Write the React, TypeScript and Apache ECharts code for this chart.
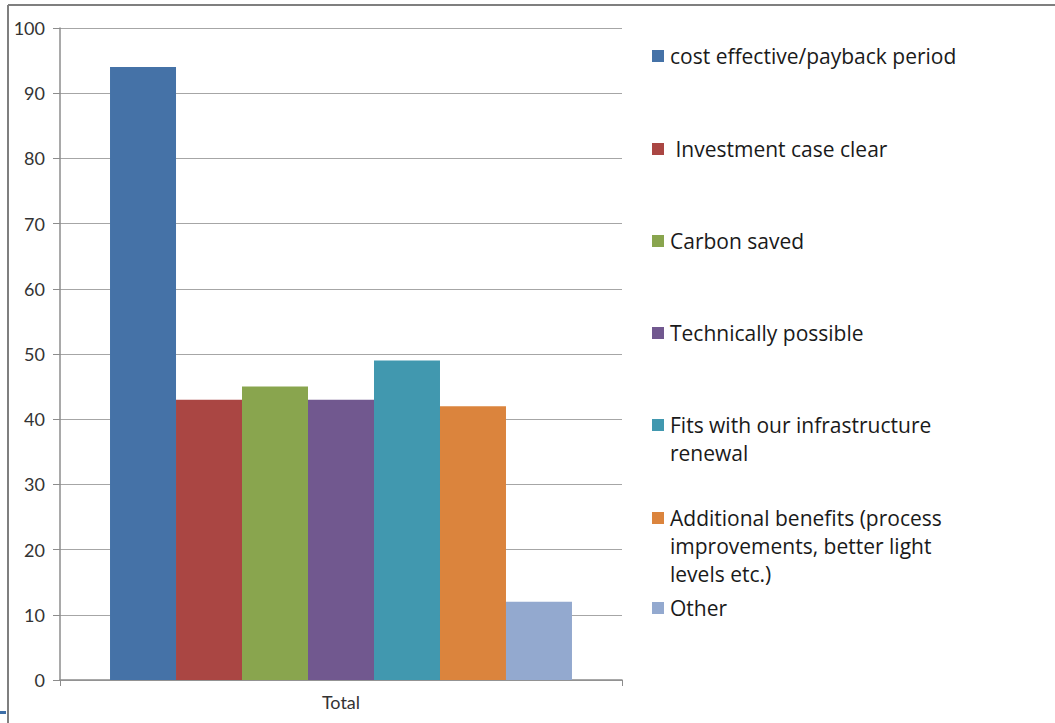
import React, { useEffect, useRef } from "react";
import * as echarts from "echarts";

// Survey responses, one bar per reason, for the single "Total" category
const categories = ["Total"];
const seriesNames = [
  "cost effective/payback period",
  " Investment case clear",
  "Carbon saved",
  "Technically possible",
  "Fits with our infrastructure renewal",
  "Additional benefits (process improvements, better light levels etc.)",
  "Other",
];
// Legend text broken into lines as displayed
const legendLines = [
  ["cost effective/payback period"],
  [" Investment case clear"],
  ["Carbon saved"],
  ["Technically possible"],
  ["Fits with our infrastructure", "renewal"],
  ["Additional benefits (process", "improvements, better light", "levels etc.)"],
  ["Other"],
];
const seriesValues = [94, 43, 45, 43, 49, 42, 12];
const seriesColors = ["#4572A7", "#AA4643", "#89A54E", "#71588F", "#4198AF", "#DB843D", "#93A9CF"];
const yTicks = { min: 0, max: 100, interval: 10 };

const FONT = "Lato, 'Open Sans', sans-serif";
const LEGEND_FONT = "'Open Sans', Lato, sans-serif";

export default function App() {
  const ref = useRef<HTMLDivElement>(null);

  useEffect(() => {
    if (!ref.current) return;
    const chart = echarts.init(ref.current, undefined, { renderer: "svg" });

    // Legend entries: first-line centres and line spacing
    const legendTops = [56, 149, 241, 333, 425, 518, 608];
    const lineH = 28;
    const legendGraphics: any[] = [];
    legendLines.forEach((lines, i) => {
      const cy = legendTops[i];
      legendGraphics.push({
        type: "rect",
        shape: { x: 652, y: cy - 6, width: 12, height: 12 },
        style: { fill: seriesColors[i] },
      });
      legendGraphics.push({
        type: "text",
        x: 670,
        y: cy - lineH / 2,
        style: {
          text: lines.join("\n"),
          font: `21px ${LEGEND_FONT}`,
          fill: "#1a1a1a",
          lineHeight: lineH,
          verticalAlign: "top",
        },
      });
    });

    chart.setOption({
      animation: false,
      backgroundColor: "#ffffff",
      grid: { left: 60, right: 433, top: 28, bottom: 43, containLabel: false },
      xAxis: {
        type: "category",
        data: categories,
        axisLine: { lineStyle: { color: "#8c8c8c", width: 1.5 } },
        axisTick: { show: true, length: 6, lineStyle: { color: "#8c8c8c" } },
        axisLabel: { color: "#333", fontFamily: FONT, fontSize: 18, margin: 13 },
      },
      yAxis: {
        type: "value",
        min: yTicks.min,
        max: yTicks.max,
        interval: yTicks.interval,
        axisLine: { show: true, lineStyle: { color: "#8c8c8c", width: 1.5 } },
        axisTick: { show: true, length: 7, lineStyle: { color: "#8c8c8c" } },
        axisLabel: { color: "#333", fontFamily: FONT, fontSize: 18, margin: 15 },
        splitLine: { lineStyle: { color: "#a6a6a6", width: 1.2 } },
      },
      series: seriesNames.map((name, i) => ({
        name,
        type: "bar",
        data: [seriesValues[i]],
        barGap: "0%",
        barCategoryGap: "17.8%",
        itemStyle: { color: seriesColors[i] },
      })),
      graphic: [
        // outer frame edges
        { type: "line", shape: { x1: 8, y1: 5, x2: 1055, y2: 5 }, style: { stroke: "#7f7f7f", lineWidth: 2 } },
        { type: "line", shape: { x1: 8, y1: 5, x2: 8, y2: 723 }, style: { stroke: "#7f7f7f", lineWidth: 2 } },
        { type: "rect", shape: { x: 0, y: 711, width: 6, height: 3 }, style: { fill: "#3d6fa8" } },
        ...legendGraphics,
      ],
    });

    return () => chart.dispose();
  }, []);

  return (
    <div
      ref={ref}
      style={{ position: "fixed", left: 0, top: 0, width: 1055, height: 723, background: "#fff" }}
    />
  );
}
